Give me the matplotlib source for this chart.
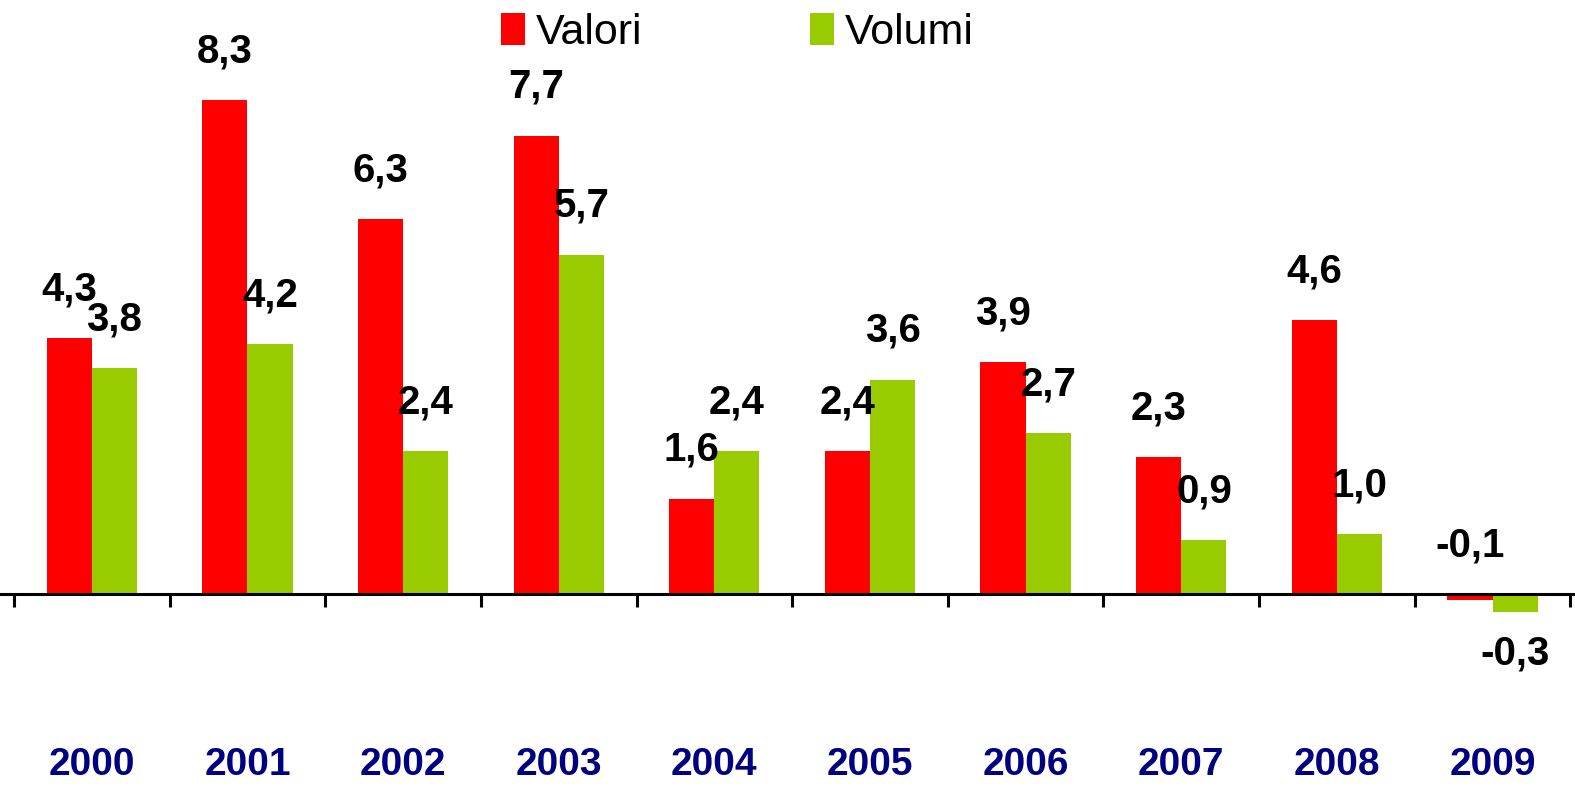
import matplotlib
matplotlib.use("Agg")
import matplotlib.pyplot as plt
import numpy as np

# dati
anni = ["2000", "2001", "2002", "2003", "2004", "2005", "2006", "2007", "2008", "2009"]
valori = [4.3, 8.3, 6.3, 7.7, 1.6, 2.4, 3.9, 2.3, 4.6, -0.1]
volumi = [3.8, 4.2, 2.4, 5.7, 2.4, 3.6, 2.7, 0.9, 1.0, -0.3]

rosso = "#FF0000"
verde = "#99CC00"
blu = "#000080"

plt.rcParams['font.family'] = ['Liberation Sans', 'DejaVu Sans']

fig = plt.figure(figsize=(15.75, 7.88), dpi=100)
ax = fig.add_axes([0, 0, 1, 1])

x = np.arange(len(anni))
w = 0.29
b1 = ax.bar(x - w / 2, valori, w, color=rosso, label='Valori')
b2 = ax.bar(x + w / 2, volumi, w, color=verde, label='Volumi')

def etichetta(v):
    return ("%.1f" % v).replace(".", ",")

# etichette sopra le barre
for i, v in enumerate(valori):
    ax.text(x[i] - w / 2, max(v, 0) + 0.82, etichetta(v), ha='center', va='center',
            fontsize=29, fontweight='bold')
for i, v in enumerate(volumi):
    y = v + 0.82 if v >= 0 else v - 0.7
    ax.text(x[i] + w / 2, y, etichetta(v), ha='center', va='center',
            fontsize=29, fontweight='bold')

# anni in basso
for i, a in enumerate(anni):
    ax.text(x[i], -2.87, a, ha='center', va='center', fontsize=28,
            fontweight='bold', color=blu)

ax.set_xlim(-0.59, 9.53)
ax.set_ylim(-3.26, 9.98)
for s in ['top', 'left', 'right']:
    ax.spines[s].set_visible(False)
ax.spines['bottom'].set_position(('data', 0))
ax.spines['bottom'].set_linewidth(2.2)
ax.set_xticks(np.arange(-0.5, 10, 1))
ax.set_xticklabels([])
ax.tick_params(axis='x', direction='out', length=9, width=2.2)
ax.set_yticks([])
ax.patch.set_alpha(0)

leg = ax.legend(loc='center', bbox_to_anchor=(0.468, 0.958), ncol=2, frameon=False,
                prop={'size': 31},
                handlelength=0.55, handleheight=0.75, handletextpad=0.25,
                columnspacing=3.9)

fig.savefig("out.png", dpi=100)
